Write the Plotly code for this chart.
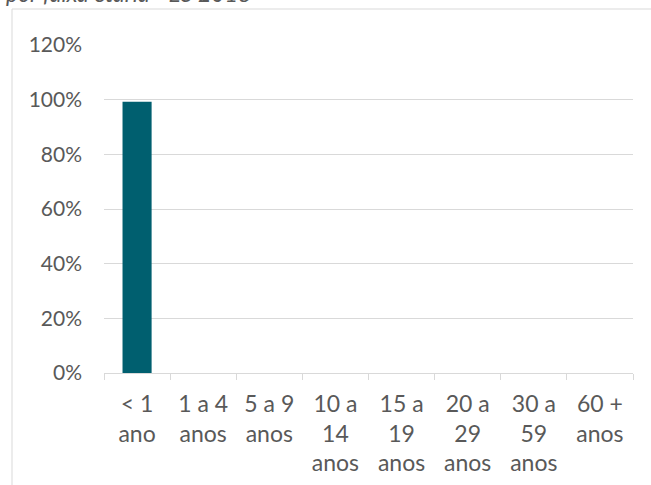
import plotly.graph_objects as go

categories = ["< 1<br>ano", "1 a 4<br>anos", "5 a 9<br>anos", "10 a<br>14<br>anos",
              "15 a<br>19<br>anos", "20 a<br>29<br>anos", "30 a<br>59<br>anos", "60 +<br>anos"]
values = [0.992, 0, 0, 0, 0, 0, 0, 0]
title_text = "por faixa etária - ES 2018"

W, H = 651, 485
ml, mr, mt, mb = 104, 18, 45, 112
pw, ph = W - ml - mr, H - mt - mb

def px_x(px):
    return (px - ml) / pw

def px_y(py):
    return (H - mb - py) / ph

FONT = "Lato"
GRAY = "#595959"
LINE = "#d9d9d9"

fig = go.Figure(go.Bar(x=categories, y=values, marker_color="#005f6f",
                       marker_line_width=0, width=0.44))

fig.update_layout(
    width=W, height=H,
    margin=dict(l=ml, r=mr, t=mt, b=mb, pad=0),
    paper_bgcolor="white", plot_bgcolor="white",
    font=dict(family=FONT, size=20, color=GRAY),
    showlegend=False,
    xaxis=dict(type="category", showline=True, linecolor=LINE, linewidth=1,
               ticks="outside", tickson="boundaries", ticklen=6, tickcolor=LINE,
               showgrid=False, tickfont=dict(size=23, color=GRAY), ticklabelstandoff=10,
               automargin=False),
    yaxis=dict(range=[0, 1.2], dtick=0.2, tickformat=".0%", showgrid=True,
               gridcolor=LINE, gridwidth=1, zeroline=False, showline=False,
               tickfont=dict(size=21, color=GRAY), ticklabelstandoff=21,
               automargin=False),
    shapes=[dict(type="rect", xref="paper", yref="paper",
                 x0=px_x(12), x1=px_x(700), y0=px_y(560), y1=px_y(9),
                 line=dict(color=LINE, width=1), fillcolor="rgba(0,0,0,0)", layer="below")],
    annotations=[dict(text=title_text, xref="paper", yref="paper", x=px_x(4), y=px_y(9),
                      xanchor="left", yanchor="bottom", showarrow=False,
                      font=dict(family=FONT, size=23, color=GRAY, style="italic"))],
)

fig.write_html("out.html")
